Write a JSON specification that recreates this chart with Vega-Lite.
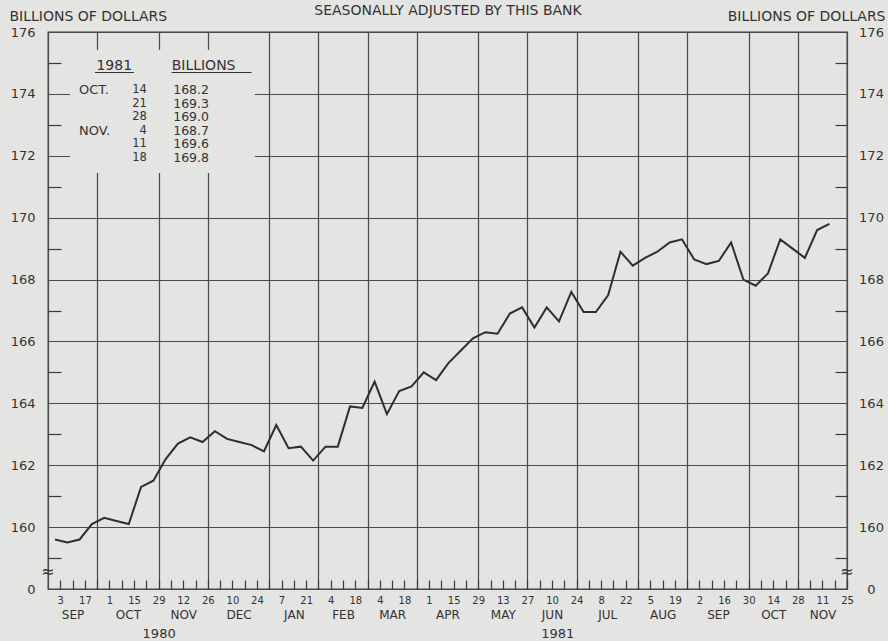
{
  "$schema": "https://vega.github.io/schema/vega-lite/v6.json",
  "width": 799,
  "height": 557,
  "autosize": "none",
  "padding": {"left": 48, "top": 32, "right": 41, "bottom": 52},
  "background": "#e4e4e2",
  "config": {
    "view": {"stroke": "#3a3a3a", "strokeWidth": 1.3},
    "font": "DejaVu Sans",
    "text": {"font": "DejaVu Sans", "color": "#333333"},
    "axis": {"labelFont": "DejaVu Sans", "titleFont": "DejaVu Sans", "labelColor": "#333333", "titleColor": "#333333", "tickColor": "#3a3a3a", "gridColor": "#4a4a4a", "gridOpacity": 1, "labelBound": false, "labelFlush": false, "labelOverlap": false}
  },
  "datasets": {
    "weekly": [
      {"date": "1980-09-03", "value": 159.6}, {"date": "1980-09-10", "value": 159.5}, {"date": "1980-09-17", "value": 159.6}, {"date": "1980-09-24", "value": 160.1},
      {"date": "1980-10-01", "value": 160.3}, {"date": "1980-10-08", "value": 160.2}, {"date": "1980-10-15", "value": 160.1}, {"date": "1980-10-22", "value": 161.3}, {"date": "1980-10-29", "value": 161.5},
      {"date": "1980-11-05", "value": 162.2}, {"date": "1980-11-12", "value": 162.7}, {"date": "1980-11-19", "value": 162.9}, {"date": "1980-11-26", "value": 162.75},
      {"date": "1980-12-03", "value": 163.1}, {"date": "1980-12-10", "value": 162.85}, {"date": "1980-12-17", "value": 162.75}, {"date": "1980-12-24", "value": 162.65}, {"date": "1980-12-31", "value": 162.45},
      {"date": "1981-01-07", "value": 163.3}, {"date": "1981-01-14", "value": 162.55}, {"date": "1981-01-21", "value": 162.6}, {"date": "1981-01-28", "value": 162.15},
      {"date": "1981-02-04", "value": 162.6}, {"date": "1981-02-11", "value": 162.6}, {"date": "1981-02-18", "value": 163.9}, {"date": "1981-02-25", "value": 163.85},
      {"date": "1981-03-04", "value": 164.7}, {"date": "1981-03-11", "value": 163.65}, {"date": "1981-03-18", "value": 164.4}, {"date": "1981-03-25", "value": 164.55},
      {"date": "1981-04-01", "value": 165.0}, {"date": "1981-04-08", "value": 164.75}, {"date": "1981-04-15", "value": 165.3}, {"date": "1981-04-22", "value": 165.7}, {"date": "1981-04-29", "value": 166.1},
      {"date": "1981-05-06", "value": 166.3}, {"date": "1981-05-13", "value": 166.25}, {"date": "1981-05-20", "value": 166.9}, {"date": "1981-05-27", "value": 167.1},
      {"date": "1981-06-03", "value": 166.45}, {"date": "1981-06-10", "value": 167.1}, {"date": "1981-06-17", "value": 166.65}, {"date": "1981-06-24", "value": 167.6},
      {"date": "1981-07-01", "value": 166.95}, {"date": "1981-07-08", "value": 166.95}, {"date": "1981-07-15", "value": 167.5}, {"date": "1981-07-22", "value": 168.9}, {"date": "1981-07-29", "value": 168.45},
      {"date": "1981-08-05", "value": 168.7}, {"date": "1981-08-12", "value": 168.9}, {"date": "1981-08-19", "value": 169.2}, {"date": "1981-08-26", "value": 169.3},
      {"date": "1981-09-02", "value": 168.65}, {"date": "1981-09-09", "value": 168.5}, {"date": "1981-09-16", "value": 168.6}, {"date": "1981-09-23", "value": 169.2}, {"date": "1981-09-30", "value": 168.0},
      {"date": "1981-10-07", "value": 167.8}, {"date": "1981-10-14", "value": 168.2}, {"date": "1981-10-21", "value": 169.3}, {"date": "1981-10-28", "value": 169.0},
      {"date": "1981-11-04", "value": 168.7}, {"date": "1981-11-11", "value": 169.6}, {"date": "1981-11-18", "value": 169.8}
    ],
    "table": [
      {"month": "OCT.", "day": "14", "value": 168.2, "row": 0},
      {"month": "", "day": "21", "value": 169.3, "row": 1},
      {"month": "", "day": "28", "value": 169.0, "row": 2},
      {"month": "NOV.", "day": "4", "value": 168.7, "row": 3},
      {"month": "", "day": "11", "value": 169.6, "row": 4},
      {"month": "", "day": "18", "value": 169.8, "row": 5}
    ]
  },
  "resolve": {"axis": {"x": "independent", "y": "independent"}},
  "layer": [
    {
      "data": {"values": [{}]},
      "mark": {"type": "rect", "fill": "#e4e4e2"},
      "encoding": {
        "x": {"datum": {"year": 1980, "month": 9, "date": 8, "hours": 12, "utc": true}, "type": "temporal",
              "scale": {"type": "utc", "domain": [{"year": 1980, "month": 8, "date": 27, "utc": true}, {"year": 1981, "month": 11, "date": 25, "utc": true}]},
              "axis": {"orient": "top", "values": [336182400000, 338601600000, 341625600000, 344044800000, 347068800000, 349488000000, 351907200000, 354326400000, 357350400000, 359769600000, 362188800000, 365212800000, 367632000000, 370656000000, 373075200000, 375494400000],
                       "grid": true, "gridWidth": 1.2, "ticks": false, "labels": false, "domain": false,
                       "title": "SEASONALLY ADJUSTED BY THIS BANK", "titleFontSize": 14, "titleFontWeight": "normal", "titleBaseline": "alphabetic", "titleY": -18}},
        "x2": {"datum": {"year": 1980, "month": 12, "date": 22, "hours": 19, "utc": true}},
        "y": {"datum": 175.418, "type": "quantitative", "scale": {"domain": [158, 176], "nice": false, "zero": false},
              "axis": {"orient": "right", "values": [158, 160, 162, 164, 166, 168, 170, 172, 174, 176], "ticks": false, "domain": false, "grid": false,
                       "labelExpr": "datum.value == 158 ? '0' : datum.label", "labelFontSize": 13, "labelAlign": "center", "labelPadding": 24,
                       "title": "BILLIONS OF DOLLARS", "titleAngle": 0, "titleAlign": "right", "titleBaseline": "middle", "titleX": 38, "titleY": -16, "titleFontSize": 14, "titleFontWeight": "normal"}},
        "y2": {"datum": 171.443}
      }
    },
    {
      "data": {"name": "table"},
      "mark": {"type": "text", "align": "left", "baseline": "middle", "fontSize": 13},
      "encoding": {
        "text": {"field": "month"},
        "x": {"datum": {"year": 1980, "month": 9, "date": 13, "hours": 15, "utc": true}, "type": "temporal",
              "scale": {"type": "utc", "domain": [{"year": 1980, "month": 8, "date": 27, "utc": true}, {"year": 1981, "month": 11, "date": 25, "utc": true}]},
              "axis": {"orient": "bottom", "values": [337392000000, 340113600000, 342835200000, 345556800000, 348278400000, 350697600000, 353116800000, 355838400000, 358560000000, 360979200000, 363700800000, 366422400000, 369144000000, 371865600000, 374284800000],
                       "ticks": false, "domain": false, "grid": false, "labelExpr": "upper(utcFormat(datum.value, '%b'))", "labelFontSize": 12, "labelPadding": 20, "title": null}},
        "y": {"datum": 174.125, "type": "quantitative", "scale": {"domain": [158, 176], "nice": false, "zero": false},
              "axis": {"orient": "left", "values": [159, 161, 163, 165, 167, 169, 171, 173, 175], "tickSize": -13, "tickWidth": 1.2, "labels": false, "domain": false, "grid": false, "title": null}},
        "yOffset": {"field": "row", "type": "quantitative", "scale": {"domain": [0, 5], "range": [0, 68]}}
      }
    },
    {
      "data": {"name": "table"},
      "mark": {"type": "text", "align": "right", "baseline": "middle", "fontSize": 11.5},
      "encoding": {
        "text": {"field": "day"},
        "x": {"datum": {"year": 1980, "month": 10, "date": 22, "hours": 8, "utc": true}, "type": "temporal",
              "scale": {"type": "utc", "domain": [{"year": 1980, "month": 8, "date": 27, "utc": true}, {"year": 1981, "month": 11, "date": 25, "utc": true}]},
              "axis": {"orient": "bottom", "values": [341625600000, 361238400000], "ticks": false, "domain": false, "grid": false, "labelExpr": "utcFormat(datum.value, '%Y')", "labelFontSize": 13, "labelPadding": 38, "title": null}},
        "y": {"datum": 174.125, "type": "quantitative", "scale": {"domain": [158, 176], "nice": false, "zero": false},
              "axis": {"orient": "right", "values": [159, 161, 163, 165, 167, 169, 171, 173, 175], "tickSize": -12, "tickWidth": 1.2, "labels": false, "domain": false, "grid": false, "title": null}},
        "yOffset": {"field": "row", "type": "quantitative", "scale": {"domain": [0, 5], "range": [0, 68]}}
      }
    },
    {
      "data": {"name": "table"},
      "mark": {"type": "text", "align": "left", "baseline": "middle", "fontSize": 12.5},
      "encoding": {
        "text": {"field": "value", "format": ".1f"},
        "x": {"datum": {"year": 1980, "month": 11, "date": 6, "hours": 7, "utc": true}, "type": "temporal", "axis": null},
        "y": {"datum": 174.125, "type": "quantitative", "axis": null},
        "yOffset": {"field": "row", "type": "quantitative", "scale": {"domain": [0, 5], "range": [0, 68]}}
      }
    },
    {
      "data": {"values": [{}]},
      "mark": {"type": "text", "text": "1981", "align": "center", "baseline": "middle", "fontSize": 14},
      "encoding": {
        "x": {"datum": {"year": 1980, "month": 10, "date": 3, "hours": 17, "utc": true}, "type": "temporal", "axis": null},
        "y": {"datum": 174.908, "type": "quantitative", "axis": null}
      }
    },
    {
      "data": {"values": [{}]},
      "mark": {"type": "text", "text": "BILLIONS", "align": "left", "baseline": "middle", "fontSize": 14},
      "encoding": {
        "x": {"datum": {"year": 1980, "month": 11, "date": 5, "hours": 10, "utc": true}, "type": "temporal", "axis": null},
        "y": {"datum": 174.908, "type": "quantitative", "axis": null}
      }
    },
    {
      "data": {"values": [{}]},
      "mark": {"type": "rule", "color": "#333333", "strokeWidth": 1.2},
      "encoding": {
        "x": {"datum": {"year": 1980, "month": 9, "date": 22, "hours": 18, "utc": true}, "type": "temporal", "axis": null},
        "x2": {"datum": {"year": 1980, "month": 10, "date": 14, "hours": 22, "utc": true}},
        "y": {"datum": 174.691, "type": "quantitative", "axis": null}
      }
    },
    {
      "data": {"values": [{}]},
      "mark": {"type": "rule", "color": "#333333", "strokeWidth": 1.2},
      "encoding": {
        "x": {"datum": {"year": 1980, "month": 11, "date": 5, "hours": 10, "utc": true}, "type": "temporal", "axis": null},
        "x2": {"datum": {"year": 1980, "month": 12, "date": 20, "hours": 22, "utc": true}},
        "y": {"datum": 174.691, "type": "quantitative", "axis": null}
      }
    },
    {
      "data": {"values": [{}]},
      "mark": {"type": "text", "text": "≈", "align": "center", "baseline": "middle", "fontSize": 16},
      "encoding": {
        "x": {"datum": {"year": 1980, "month": 8, "date": 27, "utc": true}, "type": "temporal", "axis": null},
        "y": {"datum": 158.55, "type": "quantitative", "axis": null}
      }
    },
    {
      "data": {"values": [{}]},
      "mark": {"type": "text", "text": "≈", "align": "center", "baseline": "middle", "fontSize": 16},
      "encoding": {
        "x": {"datum": {"year": 1981, "month": 11, "date": 25, "utc": true}, "type": "temporal", "axis": null},
        "y": {"datum": 158.55, "type": "quantitative", "axis": null}
      }
    },
    {
      "data": {"name": "weekly"},
      "mark": {"type": "line", "color": "#2e2e2e", "strokeWidth": 2},
      "encoding": {
        "x": {"field": "date", "timeUnit": "utcyearweek", "type": "temporal", "bandPosition": 0,
              "scale": {"type": "utc", "domain": [{"year": 1980, "month": 8, "date": 27, "utc": true}, {"year": 1981, "month": 11, "date": 25, "utc": true}]},
              "axis": {"orient": "bottom", "values": [336787200000, 337392000000, 337996800000, 338601600000, 339206400000, 339811200000, 340416000000, 341020800000, 341625600000, 342230400000, 342835200000, 343440000000, 344044800000, 344649600000, 345254400000, 345859200000, 346464000000, 347068800000, 347673600000, 348278400000, 348883200000, 349488000000, 350092800000, 350697600000, 351302400000, 351907200000, 352512000000, 353116800000, 353721600000, 354326400000, 354931200000, 355536000000, 356140800000, 356745600000, 357350400000, 357955200000, 358560000000, 359164800000, 359769600000, 360374400000, 360979200000, 361584000000, 362188800000, 362793600000, 363398400000, 364003200000, 364608000000, 365212800000, 365817600000, 366422400000, 367027200000, 367632000000, 368236800000, 368841600000, 369446400000, 370051200000, 370656000000, 371260800000, 371865600000, 372470400000, 373075200000, 373680000000, 374284800000, 374889600000, 375494400000],
                       "tickSize": -9, "tickWidth": 1.2, "domain": false, "grid": false,
                       "labelExpr": "round((datum.value - 336787200000) / 604800000) % 2 == 0 ? utcFormat(datum.value, '%-d') : ''",
                       "labelFontSize": 10, "labelPadding": 15, "title": null}},
        "y": {"field": "value", "type": "quantitative", "scale": {"domain": [158, 176], "nice": false, "zero": false},
              "axis": {"orient": "left", "values": [158, 160, 162, 164, 166, 168, 170, 172, 174, 176], "grid": true, "gridWidth": 1.2, "ticks": false, "domain": false,
                       "labelExpr": "datum.value == 158 ? '0' : datum.label", "labelFontSize": 13, "labelPadding": 13,
                       "title": "BILLIONS OF DOLLARS", "titleAngle": 0, "titleAlign": "left", "titleBaseline": "middle", "titleX": -39, "titleY": -16, "titleFontSize": 14, "titleFontWeight": "normal"}}
      }
    }
  ]
}
